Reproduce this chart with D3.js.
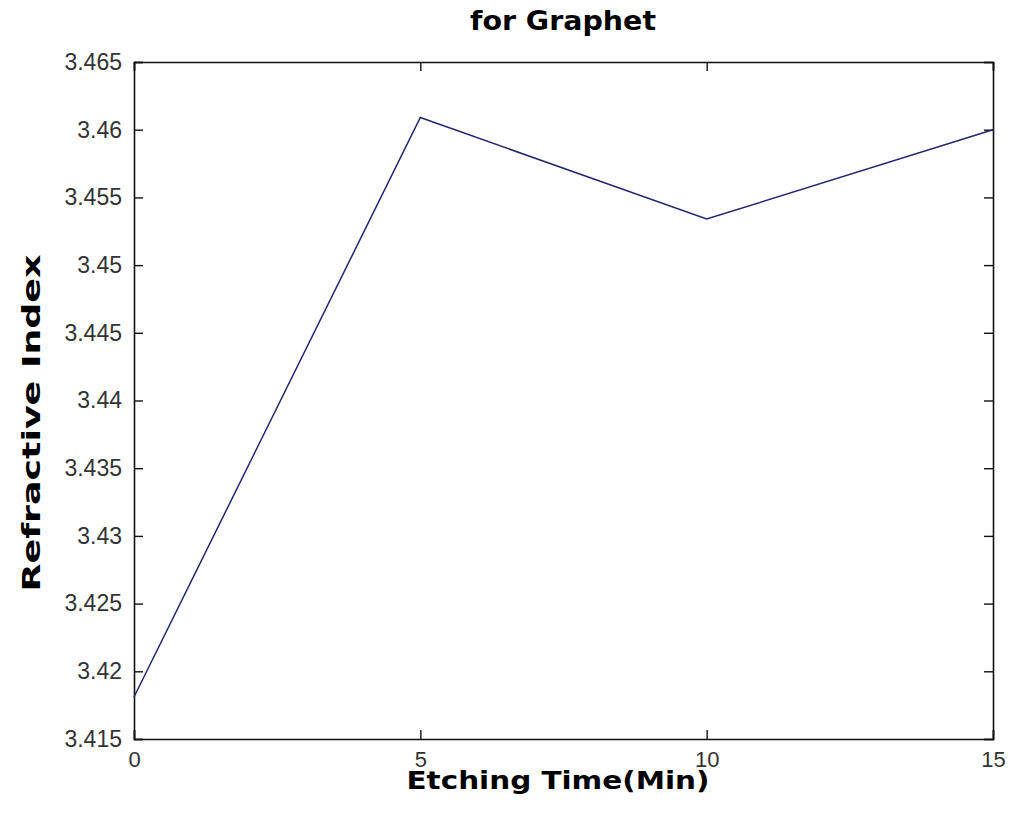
<!DOCTYPE html>
<html>
<head>
<meta charset="utf-8">
<script src="https://cdn.jsdelivr.net/npm/d3@7"></script>
<style>
  body { margin: 0; background: #fff; }
  svg { display: block; }
</style>
</head>
<body>
<svg id="chart" width="1009" height="823"></svg>
<script>
// data
const etchTime = [0, 5, 10, 15]
const refIndex = [3.4181, 3.4609, 3.4534, 3.4600]
const xTicks = [0, 5, 10, 15]
const yTicks = [3.415, 3.42, 3.425, 3.43, 3.435, 3.44, 3.445, 3.45, 3.455, 3.46, 3.465]

const svg = d3.select("#chart")
const plotL = 134, plotR = 993, plotT = 62, plotB = 739

const x = d3.scaleLinear().domain([0, 15]).range([plotL, plotR])
const y = d3.scaleLinear().domain([3.415, 3.465]).range([plotB, plotT])

const fmt = d => String(+d.toFixed(3))
const tickFont = "'Liberation Sans', Arial, sans-serif"

// axes, ticks pointing inside like matlab
svg.append("g")
    .attr("class", "xaxis")
    .attr("transform", `translate(0,${plotB})`)
    .call(d3.axisBottom(x).tickValues(xTicks).tickSize(-9).tickPadding(12).tickFormat(fmt))
svg.append("g")
    .attr("transform", `translate(0,${plotT})`)
    .call(d3.axisTop(x).tickValues(xTicks).tickSize(-9).tickFormat(""))
svg.append("g")
    .attr("transform", `translate(${plotL},0)`)
    .call(d3.axisLeft(y).tickValues(yTicks).tickSize(-9).tickPadding(12).tickFormat(fmt))
svg.append("g")
    .attr("transform", `translate(${plotR},0)`)
    .call(d3.axisRight(y).tickValues(yTicks).tickSize(-9).tickFormat(""))

svg.selectAll(".domain").attr("stroke", "#111").attr("stroke-width", 1.6)
svg.selectAll(".tick line").attr("stroke", "#111").attr("stroke-width", 1.4)
svg.selectAll(".tick text")
    .attr("fill", "#333")
    .style("font-family", tickFont)
    .style("font-size", "23px")
svg.selectAll(".xaxis .tick text").style("font-size", "22px")

// the line
const line = d3.line()
    .x((d, i) => x(etchTime[i]))
    .y(d => y(d))

svg.append("path")
    .datum(refIndex)
    .attr("d", line)
    .attr("fill", "none")
    .attr("stroke", "#24246e")
    .attr("stroke-width", 1.5)

// labels, stretched to the wide heavy font of the original
const labelFont = "'DejaVu Sans', Verdana, sans-serif"

svg.append("text")
    .attr("x", 563)
    .attr("y", 30)
    .attr("text-anchor", "middle")
    .attr("textLength", 186)
    .attr("lengthAdjust", "spacingAndGlyphs")
    .style("font-family", labelFont)
    .style("font-weight", "bold")
    .style("font-size", "27px")
    .text("for Graphet")

svg.append("text")
    .attr("x", 558)
    .attr("y", 789)
    .attr("text-anchor", "middle")
    .attr("textLength", 303)
    .attr("lengthAdjust", "spacingAndGlyphs")
    .style("font-family", labelFont)
    .style("font-weight", "bold")
    .style("font-size", "24px")
    .text("Etching Time(Min)")

svg.append("text")
    .attr("transform", "translate(40,423) rotate(-90)")
    .attr("text-anchor", "middle")
    .attr("textLength", 337)
    .attr("lengthAdjust", "spacingAndGlyphs")
    .style("font-family", labelFont)
    .style("font-weight", "bold")
    .style("font-size", "25px")
    .text("Refractive Index")
</script>
</body>
</html>
